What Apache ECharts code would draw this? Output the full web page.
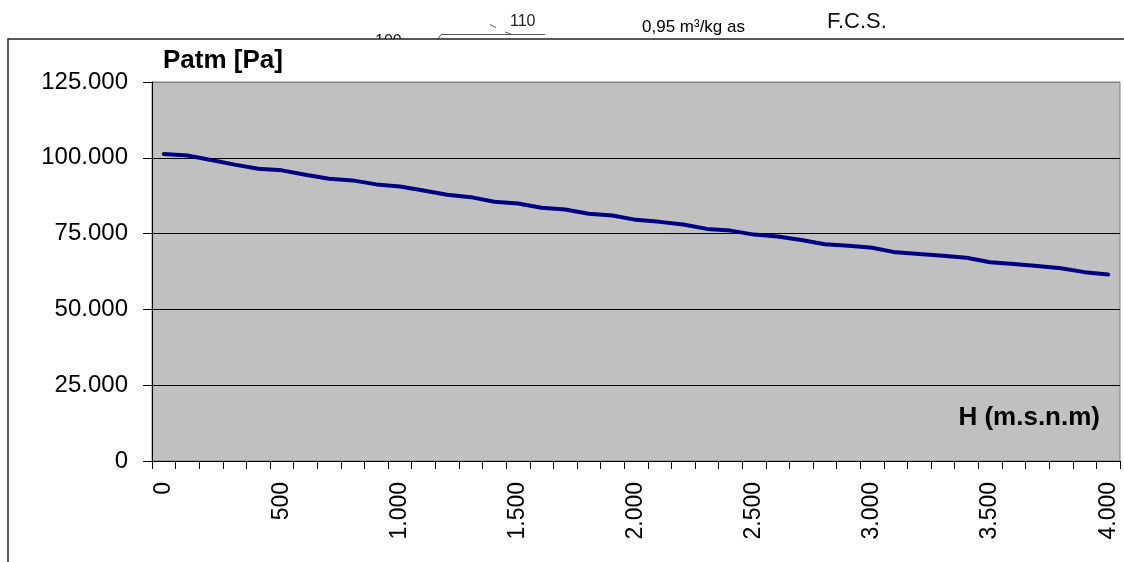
<!DOCTYPE html>
<html>
<head>
<meta charset="utf-8">
<script src="https://cdn.jsdelivr.net/npm/echarts@6/dist/echarts.min.js"></script>
<style>
  html, body { margin: 0; padding: 0; background: #ffffff; }
  #chart { width: 1124px; height: 562px; }
</style>
</head>
<body>
<div id="chart"></div>
<script>
// Altitude above sea level (m) and atmospheric pressure (Pa)
const heights = [0, 100, 200, 300, 400, 500, 600, 700, 800, 900,
  1000, 1100, 1200, 1300, 1400, 1500, 1600, 1700, 1800, 1900,
  2000, 2100, 2200, 2300, 2400, 2500, 2600, 2700, 2800, 2900,
  3000, 3100, 3200, 3300, 3400, 3500, 3600, 3700, 3800, 3900, 4000];
const patm = [101250, 100730, 99270, 97750, 96420, 95860, 94440, 93110, 92550, 91230,
  90560, 89240, 87820, 87020, 85500, 84930, 83510, 82950, 81520, 80960,
  79530, 78870, 77980, 76550, 75990, 74670, 74010, 72900, 71510, 70960,
  70310, 68810, 68250, 67700, 67050, 65550, 64990, 64340, 63590, 62290, 61500];
const yTicks = [0, 25000, 50000, 75000, 100000, 125000];

const FONT = '"Liberation Sans", Arial, sans-serif';

// thousands separator as a dot (es locale style)
function fmt(v) {
  return String(Math.round(Number(v))).replace(/\B(?=(\d{3})+(?!\d))/g, '.');
}

const chart = echarts.init(document.getElementById('chart'), null, { renderer: 'canvas' });

chart.setOption({
  backgroundColor: '#ffffff',
  animation: false,
  textStyle: { fontFamily: FONT },
  grid: {
    left: 152, top: 82, right: 4, bottom: 101,
    show: true,
    backgroundColor: '#C0C0C0',
    borderColor: '#808080',
    borderWidth: 1
  },
  xAxis: {
    type: 'category',
    data: heights,
    boundaryGap: true,
    axisLine: { lineStyle: { color: '#000000', width: 1 } },
    axisTick: { show: true, interval: 0, length: 8, inside: false, lineStyle: { color: '#000000' } },
    axisLabel: {
      interval: 4,
      rotate: 90,
      margin: 21,
      color: '#000000',
      fontSize: 23,
      fontFamily: FONT,
      formatter: v => fmt(v)
    },
    splitLine: { show: false }
  },
  yAxis: {
    type: 'value',
    min: yTicks[0],
    max: yTicks[yTicks.length - 1],
    interval: 25000,
    axisLine: { show: true, lineStyle: { color: '#000000', width: 1 } },
    axisTick: { show: true, length: 9, inside: false, lineStyle: { color: '#000000' } },
    axisLabel: {
      margin: 24,
      color: '#000000',
      fontSize: 24,
      fontFamily: FONT,
      formatter: v => fmt(v)
    },
    splitLine: {
      show: true,
      lineStyle: { color: ['#000000', '#000000', '#000000', '#000000', '#000000', '#808080'], width: 1 }
    }
  },
  series: [{
    type: 'line',
    data: patm,
    showSymbol: false,
    symbol: 'none',
    smooth: false,
    lineStyle: { color: '#000080', width: 4, join: 'round', cap: 'round' },
    z: 3
  }],
  graphic: [
    // label fragments above the chart frame
    { type: 'text', z: -10, left: 375, top: 34,
      style: { text: '100', font: '16px ' + FONT, fill: '#111111' } },
    { type: 'text', z: -10, left: 510, top: 14,
      style: { text: '110', font: '16px ' + FONT, fill: '#222222' } },
    { type: 'polyline', z: -10,
      shape: { points: [[438, 39], [441, 34.5], [545, 34.5]] },
      style: { stroke: '#555555', lineWidth: 1, fill: null } },
    { type: 'line', z: -10,
      shape: { x1: 490, y1: 24.5, x2: 496, y2: 27.5 },
      style: { stroke: '#555555', lineWidth: 1 } },
    { type: 'line', z: -10,
      shape: { x1: 505, y1: 32, x2: 512, y2: 34.5 },
      style: { stroke: '#555555', lineWidth: 1 } },
    { type: 'text', z: -10, left: 642, top: 19,
      style: { text: '0,95 m³/kg as', font: '17px ' + FONT, fill: '#000000' } },
    { type: 'text', z: -10, left: 827, top: 11,
      style: { text: 'F.C.S.', font: '22px ' + FONT, fill: '#111111' } },
    // chart frame
    { type: 'rect', z: -5,
      shape: { x: 8, y: 39, width: 1200, height: 600 },
      style: { fill: '#ffffff', stroke: '#222222', lineWidth: 1.5 } },
    // axis titles
    { type: 'text', z: 10, left: 163, top: 48,
      style: { text: 'Patm [Pa]', font: 'bold 26px ' + FONT, fill: '#000000' } },
    { type: 'text', z: 10, right: 24, top: 405,
      style: { text: 'H (m.s.n.m)', font: 'bold 26px ' + FONT, fill: '#000000' } }
  ]
});
</script>
</body>
</html>
